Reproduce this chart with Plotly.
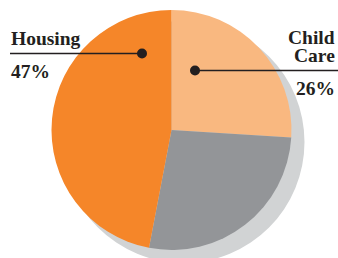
import plotly.graph_objects as go

categories = ["Child Care", "Other", "Housing"]
values = [26, 27, 47]
colors = ["#F9B880", "#939598", "#F58629"]
housing_label = ["Housing", "47%"]
childcare_label = ["Child", "Care", "26%"]

W, H = 338, 258
L, R, T, B = 51, 46, 10, 8
pw, ph = W - L - R, H - T - B

def px(x):
    return (x - L) / pw

def py(y):
    return 1 - (y - T) / ph

fig = go.Figure(go.Pie(
    labels=categories, values=values, sort=False, direction="clockwise",
    rotation=0, marker=dict(colors=colors, line=dict(width=0)),
    textinfo="none", hoverinfo="label+percent", showlegend=False,
    domain=dict(x=[0, 1], y=[0, 1]),
))

shapes = []
# shadow
cx, cy, r = 171.5 + 12, 130 + 12, 121
shapes.append(dict(type="circle", xref="paper", yref="paper", layer="below",
                   x0=px(cx - r), x1=px(cx + r), y0=py(cy + r), y1=py(cy - r),
                   fillcolor="#D1D3D4", line=dict(width=0)))
dark = "#231F20"
# leader lines
shapes.append(dict(type="line", xref="paper", yref="paper", x0=px(10), x1=px(142),
                   y0=py(53.5), y1=py(53.5), line=dict(color=dark, width=1.5)))
shapes.append(dict(type="line", xref="paper", yref="paper", x0=px(195), x1=px(338),
                   y0=py(70.5), y1=py(70.5), line=dict(color=dark, width=1.5)))
for (dx, dy) in [(142, 53.5), (195, 70.5)]:
    rr = 5
    shapes.append(dict(type="circle", xref="paper", yref="paper",
                       x0=px(dx - rr), x1=px(dx + rr), y0=py(dy + rr), y1=py(dy - rr),
                       fillcolor=dark, line=dict(width=0)))

font = dict(family="Liberation Serif", size=19.5, color=dark)
ann = [
    dict(text="<b>%s</b>" % housing_label[0], x=px(9), y=py(38), xanchor="left", yanchor="middle"),
    dict(text="<b>%s</b>" % housing_label[1], x=px(9), y=py(71), xanchor="left", yanchor="middle"),
    dict(text="<b>%s</b>" % childcare_label[0], x=px(337), y=py(37), xanchor="right", yanchor="middle", height=17),
    dict(text="<b>%s</b>" % childcare_label[1], x=px(337), y=py(55), xanchor="right", yanchor="middle", height=17),
    dict(text="<b>%s</b>" % childcare_label[2], x=px(337), y=py(88.5), xanchor="right", yanchor="middle"),
]
for a in ann:
    a.update(xref="paper", yref="paper", showarrow=False, font=font)

fig.update_layout(width=W, height=H, margin=dict(l=L, r=R, t=T, b=B),
                  paper_bgcolor="white", plot_bgcolor="white",
                  shapes=shapes, annotations=ann)
fig.write_html("out.html", config={"displayModeBar": False},
               post_script="document.body.style.margin='0';document.body.style.overflow='hidden';")
